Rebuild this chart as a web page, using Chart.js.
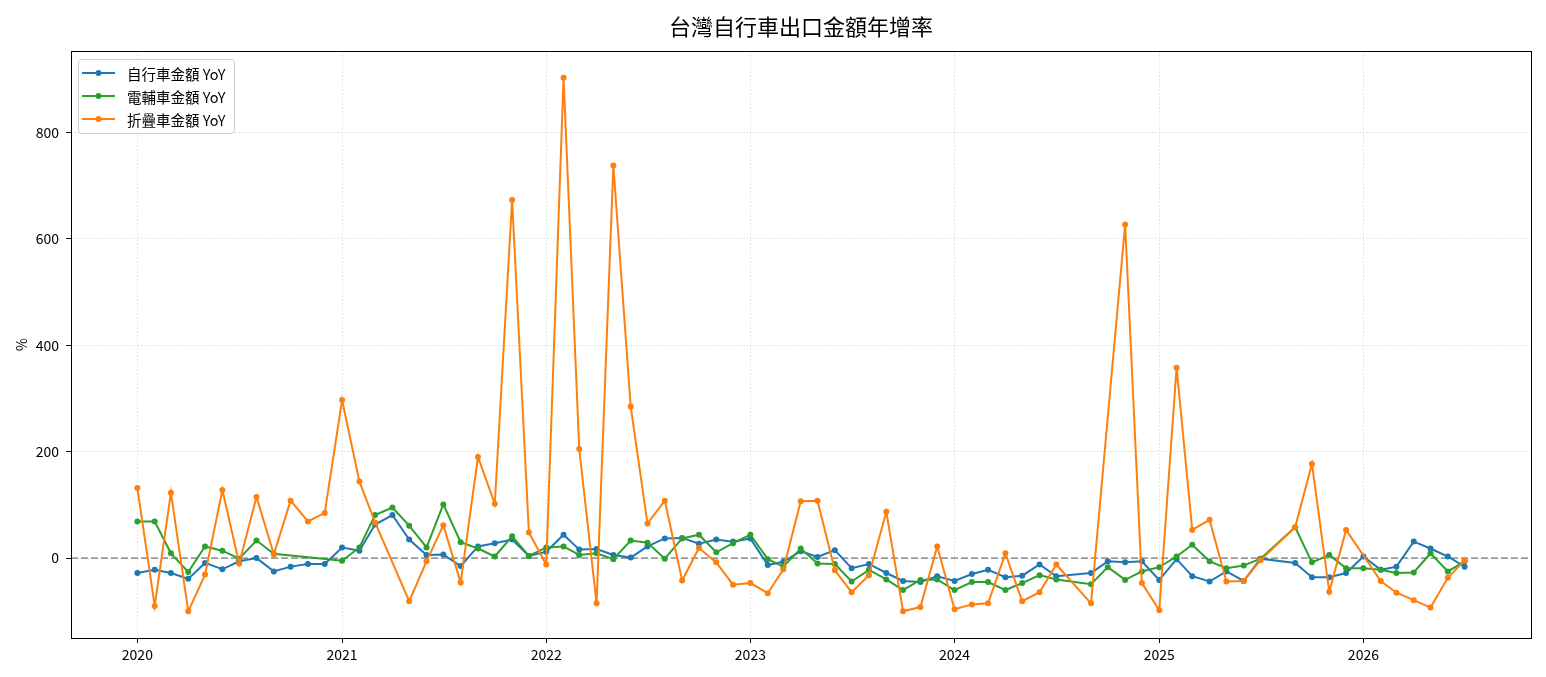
<!DOCTYPE html>
<html>
<head>
<meta charset="utf-8">
<title>台灣自行車出口金額年增率</title>
<script src="https://cdn.jsdelivr.net/npm/chart.js@4.4.1/dist/chart.umd.min.js"></script>
<style>
  html, body { margin: 0; padding: 0; background: #fff; }
  #wrap { width: 1546px; height: 677px; position: relative; }
</style>
</head>
<body>
<div id="wrap"><canvas id="yoyChart"></canvas></div>
<script>
// monthly points, null = month not in the data
const MONTHS = [
  '2020-01','2020-02','2020-03','2020-04','2020-05','2020-06','2020-07','2020-08','2020-09','2020-10','2020-11','2020-12',
  '2021-01','2021-02','2021-03','2021-04','2021-05','2021-06','2021-07','2021-08','2021-09','2021-10','2021-11','2021-12',
  '2022-01','2022-02','2022-03','2022-04','2022-05','2022-06','2022-07','2022-08','2022-09','2022-10','2022-11','2022-12',
  '2023-01','2023-02','2023-03','2023-04','2023-05','2023-06','2023-07','2023-08','2023-09','2023-10','2023-11','2023-12',
  '2024-01','2024-02','2024-03','2024-04','2024-05','2024-06','2024-07','2024-08','2024-09','2024-10','2024-11','2024-12',
  '2025-01','2025-02','2025-03','2025-04','2025-05','2025-06','2025-07','2025-08','2025-09','2025-10','2025-11','2025-12',
  '2026-01','2026-02','2026-03','2026-04','2026-05','2026-06','2026-07'
];

const BIKE_YOY = [
  -28, -22, -28, -39, -9, -21, -6, 0, -25, -16, -11, -11,
  20, 14, 63, 81, 35, 6, 7, -15, 22, 28, 35, 4,
  12, 44, 16, 17, 6, 1, 22, 37, 38, 27, 35, 31,
  37, -13, -7, 13, 2, 15, -19, -11, -28, -43, -45, -34,
  -43, -30, -22, -36, -33, -12, -34, null, -28, -6, -8, -6,
  -41, -2, -34, -44, -25, -43, -1, null, -9, -36, -36, -28,
  3, -22, -16, 31, 18, 3, -16
];

const EBIKE_YOY = [
  69, 69, 9, -26, 22, 14, -1, 33, 8, null, null, null,
  -5, 20, 81, 95, 61, 20, 101, 30, 18, 3, 41, 4,
  20, 22, 6, 9, -2, 33, 29, -1, 37, 44, 11, 28,
  44, -2, -16, 18, -10, -11, -44, -22, -40, -60, -41, -40,
  -60, -45, -45, -60, -47, -32, -40, null, -49, -17, -41, -25,
  -17, 3, 25, -6, -19, -14, -1, null, 58, -8, 6, -19,
  -19, -22, -28, -27, 9, -25, -6
];

const FOLD_YOY = [
  132, -90, 123, -100, -31, 128, -10, 115, 7, 108, 69, 85,
  297, 144, 67, null, -81, -6, 62, -46, 190, 102, 673, 48,
  -12, 903, 205, -85, 738, 285, 65, 108, -42, 19, -8, -50,
  -47, -66, -21, 107, 108, -23, -64, -32, 87, -100, -92, 22,
  -96, -87, -85, 9, -81, -64, -12, null, -85, null, 627, -47,
  -98, 358, 53, 72, -44, -43, -4, null, 58, 177, -63, 53,
  null, -43, -65, -79, -93, -37, -4
];

const SERIES_NAMES = ['自行車金額 YoY', '電輔車金額 YoY', '折疊車金額 YoY'];
const X_TICK_YEARS = [2020, 2021, 2022, 2023, 2024, 2025, 2026];
const Y_TICKS = [0, 200, 400, 600, 800];

const FONT = '"Noto Sans CJK TC", "Noto Sans CJK JP", "Noto Sans", sans-serif';
const COLORS = ['#1f77b4', '#2ca02c', '#ff7f0e'];

function monthTime(m) {
  const [y, mo] = m.split('-').map(Number);
  return Date.UTC(y, mo - 1, 1);
}

function toPoints(values) {
  const pts = [];
  values.forEach((v, i) => {
    if (v !== null) pts.push({ x: monthTime(MONTHS[i]), y: v });
  });
  return pts;
}

// matplotlib-like 5% margins
const allVals = [...BIKE_YOY, ...EBIKE_YOY, ...FOLD_YOY].filter(v => v !== null);
const yLo = Math.min(...allVals), yHi = Math.max(...allVals);
const yPad = (yHi - yLo) * 0.05;
const xLo = monthTime(MONTHS[0]), xHi = monthTime(MONTHS[MONTHS.length - 1]);
const xPad = (xHi - xLo) * 0.05;

const extras = {
  id: 'extras',
  beforeDatasetsDraw(chart) {
    const { ctx, chartArea: a, scales: { y } } = chart;
    const y0 = y.getPixelForValue(0);
    ctx.save();
    ctx.strokeStyle = '#9a9a9a';
    ctx.lineWidth = 1.6;
    ctx.setLineDash([7, 3]);
    ctx.beginPath();
    ctx.moveTo(a.left, y0);
    ctx.lineTo(a.right, y0);
    ctx.stroke();
    ctx.restore();
  },
  afterDraw(chart) {
    const { ctx, chartArea: a } = chart;
    ctx.save();
    // axes frame
    ctx.strokeStyle = '#000';
    ctx.lineWidth = 1;
    ctx.strokeRect(Math.round(a.left) + 0.5, Math.round(a.top) + 0.5,
      Math.round(a.right - a.left), Math.round(a.bottom - a.top));

    // title centred over the axes
    ctx.fillStyle = '#000';
    ctx.font = '22px ' + FONT;
    ctx.textAlign = 'center';
    ctx.textBaseline = 'middle';
    ctx.fillText('台灣自行車出口金額年增率', (a.left + a.right) / 2, 27);

    // legend, upper left inside the axes
    const bx = a.left + 7, by = a.top + 8, bw = 156, bh = 74;
    ctx.fillStyle = 'rgba(255,255,255,0.8)';
    ctx.strokeStyle = '#cccccc';
    ctx.lineWidth = 1;
    ctx.beginPath();
    ctx.roundRect(bx + 0.5, by + 0.5, bw, bh, 3);
    ctx.fill();
    ctx.stroke();

    ctx.font = '14.5px ' + FONT;
    ctx.textAlign = 'left';
    SERIES_NAMES.forEach((name, i) => {
      const ry = a.top + 22 + i * 23;
      ctx.strokeStyle = COLORS[i];
      ctx.lineWidth = 2;
      ctx.beginPath();
      ctx.moveTo(a.left + 11, ry);
      ctx.lineTo(a.left + 44, ry);
      ctx.stroke();
      ctx.fillStyle = COLORS[i];
      ctx.beginPath();
      ctx.arc(a.left + 27.5, ry, 3, 0, Math.PI * 2);
      ctx.fill();
      ctx.fillStyle = '#000';
      ctx.fillText(name, a.left + 56, ry + 1);
    });
    ctx.restore();
  }
};

const lineStyle = (i) => ({
  borderColor: COLORS[i],
  backgroundColor: COLORS[i],
  pointBackgroundColor: COLORS[i],
  pointBorderWidth: 0,
  pointRadius: 3,
  borderWidth: 2,
  tension: 0,
  fill: false
});

new Chart(document.getElementById('yoyChart'), {
  type: 'line',
  data: {
    datasets: [
      { label: SERIES_NAMES[0], data: toPoints(BIKE_YOY), order: 3, ...lineStyle(0) },
      { label: SERIES_NAMES[1], data: toPoints(EBIKE_YOY), order: 2, ...lineStyle(1) },
      { label: SERIES_NAMES[2], data: toPoints(FOLD_YOY), order: 1, ...lineStyle(2) }
    ]
  },
  options: {
    responsive: true,
    maintainAspectRatio: false,
    animation: false,
    devicePixelRatio: 1,
    layout: { padding: { top: 51, right: 15, left: 0, bottom: 0 } },
    plugins: {
      legend: { display: false },
      title: { display: false },
      tooltip: { enabled: false }
    },
    scales: {
      x: {
        type: 'linear',
        min: xLo - xPad,
        max: xHi + xPad,
        afterBuildTicks: (scale) => {
          scale.ticks = X_TICK_YEARS.map(y => ({ value: Date.UTC(y, 0, 1) }));
        },
        afterFit: (scale) => { scale.height = 39; },
        ticks: {
          callback: (v) => String(new Date(v).getUTCFullYear()),
          font: { family: FONT, size: 14 },
          color: '#000',
          maxRotation: 0,
          autoSkip: false,
          padding: 3
        },
        grid: {
          color: '#d4d4d4',
          lineWidth: 0.8,
          tickColor: '#000',
          tickWidth: 1,
          tickLength: 5,
          tickBorderDash: []
        },
        border: { display: false, dash: [1.5, 2] }
      },
      y: {
        min: yLo - yPad,
        max: yHi + yPad,
        afterBuildTicks: (scale) => {
          scale.ticks = Y_TICKS.map(v => ({ value: v }));
        },
        afterFit: (scale) => { scale.width = 71; },
        ticks: {
          font: { family: FONT, size: 14 },
          color: '#000',
          padding: 7
        },
        title: {
          display: true,
          text: '%',
          font: { family: FONT, size: 14 },
          color: '#000',
          padding: { top: 13, bottom: 0 }
        },
        grid: {
          color: '#d4d4d4',
          lineWidth: 0.8,
          tickColor: '#000',
          tickWidth: 1,
          tickLength: 5,
          tickBorderDash: []
        },
        border: { display: false, dash: [1.5, 2] }
      }
    }
  },
  plugins: [extras]
});
</script>
</body>
</html>
